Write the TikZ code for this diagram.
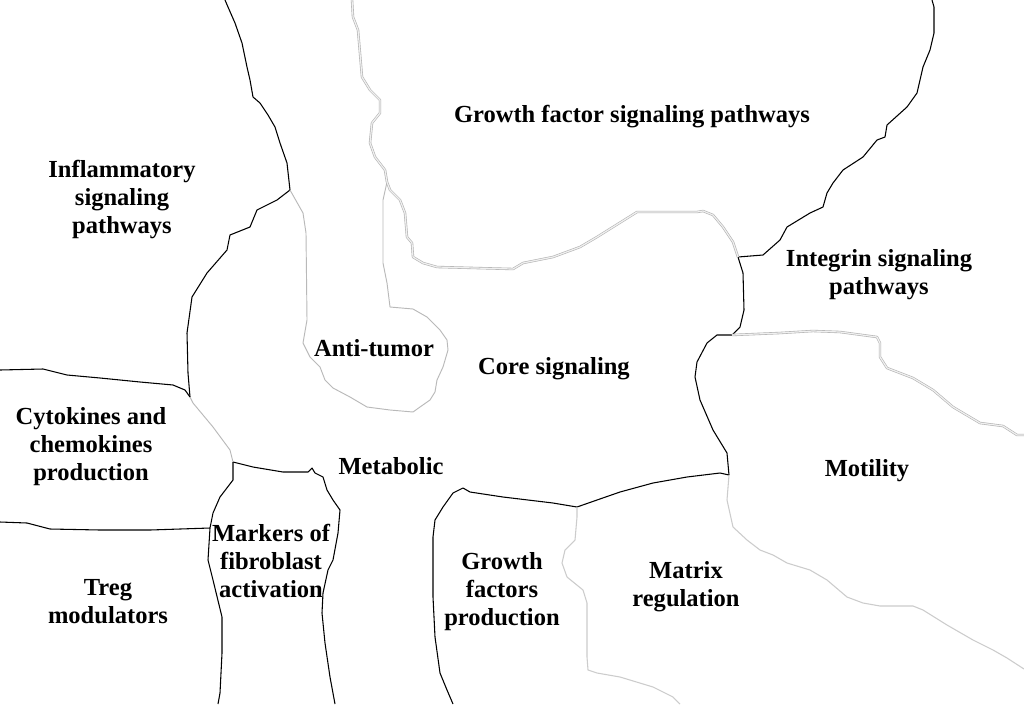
\documentclass[tikz,border=0pt]{standalone}
\usepackage{fontspec}
\setmainfont{Liberation Serif}
\begin{document}
\begin{tikzpicture}[x=0.75pt,y=-0.75pt,
  blk/.style={draw=black,line width=0.8pt,line join=round},
  gry/.style={draw=gray!55,line width=0.7pt,line join=round},
  lgry/.style={draw=gray!40,line width=0.8pt,line join=round},
  dgry/.style={draw=gray!60,line width=0.45pt,double=gray!12,double distance=0.9pt,line join=round},
  lbl/.style={font=\fontsize{18.4}{21}\selectfont\bfseries,align=center,inner sep=0pt}]
\useasboundingbox[fill=white] (0,0) rectangle (1024,704);

% junctions
\coordinate (J1) at (290,190);
\coordinate (J2) at (190,397);
\coordinate (J3) at (233,462);
\coordinate (J4) at (387,182);
\coordinate (J5) at (738,257);
\coordinate (J6) at (732,335);
\coordinate (J7) at (729,475);
\coordinate (J8) at (577,507);
\coordinate (J9) at (210,528);

% black borders
\draw[blk] (225,0) -- (228,7) -- (235,23) -- (242,43) -- (247,67) -- (250,80) -- (253,97) -- (260,103) -- (268,115) -- (275,127) -- (280,143) -- (287,163) -- (J1);
\draw[blk] (J1) -- (277,200) -- (257,210) -- (250,227) -- (230,235) -- (227,250) -- (207,273) -- (192,297) -- (187,333) -- (188,373) -- (J2);
\draw[blk] (0,370) -- (43,369) -- (67,375) -- (100,378) -- (140,382) -- (173,385) -- (185,390) -- (J2);
\draw[blk] (J3) -- (253,467) -- (283,472) -- (308,472) -- (312,468) -- (315,473) -- (323,477) -- (327,490) -- (333,500) -- (340,510) -- (338,533) -- (333,560) -- (328,570) -- (323,593) -- (322,613) -- (325,643) -- (330,677) -- (335,704);
\draw[blk] (J3) -- (233,480) -- (220,497) -- (213,513) -- (J9) -- (208,560) -- (213,580) -- (222,617) -- (222,653) -- (220,693) -- (218,704);
\draw[blk] (0,522) -- (27,523) -- (50,529) -- (100,530) -- (150,530) -- (J9);
\draw[blk] (J5) -- (763,255) -- (780,240) -- (787,227) -- (810,213) -- (823,207) -- (827,193) -- (833,183) -- (843,170) -- (863,157) -- (877,140) -- (885,137) -- (887,125) -- (907,107) -- (917,93) -- (923,67) -- (930,50) -- (934,33) -- (934,7) -- (932,0);
\draw[blk] (J5) -- (743,273) -- (744,310) -- (740,327) -- (J6) -- (717,335) -- (707,343) -- (697,362) -- (695,377) -- (700,400) -- (713,430) -- (727,453) -- (J7);
\draw[blk] (J7) -- (720,473) -- (687,477) -- (653,483) -- (620,492) -- (597,500) -- (J8) -- (553,503) -- (503,497) -- (470,492) -- (463,488) -- (453,493) -- (443,507) -- (435,520) -- (433,537) -- (433,597) -- (435,637) -- (440,673) -- (447,690) -- (453,704);

% gray borders
\draw[gry] (J2) -- (193,403) -- (213,427) -- (230,450) -- (J3);
\draw[gry] (J1) -- (303,213) -- (306,233) -- (307,320) -- (303,343) -- (310,357) -- (320,367) -- (325,380) -- (333,388) -- (350,397) -- (367,407) -- (390,410) -- (413,412) -- (420,407) -- (430,400) -- (435,392) -- (437,380) -- (443,367) -- (448,350) -- (447,340) -- (440,330) -- (427,317) -- (413,309) -- (390,307) -- (387,283) -- (383,263) -- (383,200) -- (J4);
\draw[dgry] (352,0) -- (353,17) -- (358,30) -- (362,77) -- (370,90) -- (380,100) -- (380,113) -- (372,123) -- (370,143) -- (375,157) -- (385,170) -- (J4) -- (390,190) -- (400,200) -- (405,213) -- (407,237) -- (412,243) -- (413,257) -- (423,263) -- (437,267) -- (513,269) -- (523,263) -- (553,257) -- (580,247) -- (597,237) -- (613,227) -- (637,212) -- (697,212) -- (703,211) -- (713,215) -- (723,227) -- (733,242) -- (J5);
\draw[dgry] (J6) -- (780,333) -- (813,331) -- (840,332) -- (877,337) -- (880,343) -- (880,357) -- (887,368) -- (913,378) -- (933,390) -- (953,407) -- (980,423) -- (1003,426) -- (1017,435) -- (1024,435);
\draw[lgry] (J8) -- (577,517) -- (575,540) -- (565,550) -- (562,563) -- (567,577) -- (583,590) -- (587,603) -- (587,657) -- (588,670) -- (597,673) -- (620,677) -- (653,687) -- (673,697) -- (680,704);
\draw[lgry] (J7) -- (727,500) -- (733,527) -- (747,540) -- (760,550) -- (773,555) -- (787,563) -- (810,570) -- (827,580) -- (847,597) -- (863,603) -- (880,606) -- (913,606) -- (923,610) -- (947,625) -- (973,640) -- (993,650) -- (1007,658) -- (1024,669);

% labels
\node[lbl] (gfsp) at (632,117) {Growth factor signaling pathways};
\node[lbl] (infl) at (122,200) {Inflammatory\\signaling\\pathways};
\node[lbl] (integ) at (879,275) {Integrin signaling\\pathways};
\node[lbl] (anti) at (374,348) {Anti-tumor};
\node[lbl] (core) at (554,369) {Core signaling};
\node[lbl] (cyto) at (91,447) {Cytokines and\\chemokines\\production};
\node[lbl] (meta) at (391,466) {Metabolic};
\node[lbl] (moti) at (867,471) {Motility};
\node[lbl] (mark) at (271,561) {Markers of\\fibroblast\\activation};
\node[lbl] (treg) at (108,602) {Treg\\modulators};
\node[lbl] (gfp) at (502,592) {Growth\\factors\\production};
\node[lbl] (matr) at (686,587) {Matrix\\regulation};
\end{tikzpicture}
\end{document}
